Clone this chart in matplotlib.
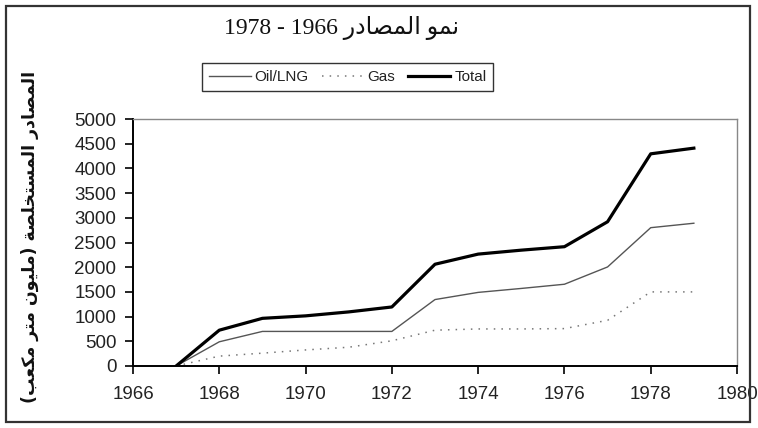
import matplotlib
matplotlib.use("Agg")
import matplotlib.pyplot as plt
from matplotlib.patches import Rectangle

years = [1967, 1968, 1969, 1970, 1971, 1972, 1973, 1974, 1975, 1976, 1977, 1978, 1979]
oil = [0, 490, 700, 700, 700, 700, 1345, 1490, 1570, 1655, 2005, 2800, 2890]
gas = [0, 200, 260, 325, 380, 510, 725, 750, 750, 757, 925, 1500, 1500]
total = [0, 725, 965, 1015, 1095, 1195, 2060, 2265, 2345, 2415, 2920, 4295, 4410]
series_names = ["Oil/LNG", "Gas", "Total"]
xticks = [1966, 1968, 1970, 1972, 1974, 1976, 1978, 1980]
yticks = list(range(0, 5001, 500))

title_ar = "نمو المصادر"
title_num = "1978 - 1966"
ylabel_ar = "المصادر المستخلصة (مليون متر مكعب)"

# --- minimal Arabic shaping (presentation forms) + visual reordering ---
FORMS = {
    'ا': (0xFE8D, 0xFE8E, None, None),
    'ب': (0xFE8F, 0xFE90, 0xFE91, 0xFE92),
    'ة': (0xFE93, 0xFE94, None, None),
    'ت': (0xFE95, 0xFE96, 0xFE97, 0xFE98),
    'خ': (0xFEA5, 0xFEA6, 0xFEA7, 0xFEA8),
    'د': (0xFEA9, 0xFEAA, None, None),
    'ر': (0xFEAD, 0xFEAE, None, None),
    'س': (0xFEB1, 0xFEB2, 0xFEB3, 0xFEB4),
    'ص': (0xFEB9, 0xFEBA, 0xFEBB, 0xFEBC),
    'ع': (0xFEC9, 0xFECA, 0xFECB, 0xFECC),
    'ك': (0xFED9, 0xFEDA, 0xFEDB, 0xFEDC),
    'ل': (0xFEDD, 0xFEDE, 0xFEDF, 0xFEE0),
    'م': (0xFEE1, 0xFEE2, 0xFEE3, 0xFEE4),
    'ن': (0xFEE5, 0xFEE6, 0xFEE7, 0xFEE8),
    'و': (0xFEED, 0xFEEE, None, None),
    'ي': (0xFEF1, 0xFEF2, 0xFEF3, 0xFEF4),
}


def dual(c):
    return c in FORMS and FORMS[c][2] is not None


def shape_word(w):
    out = []
    for i, c in enumerate(w):
        if c not in FORMS:
            out.append(c)
            continue
        p = i > 0 and dual(w[i - 1])
        n = dual(c) and i < len(w) - 1 and w[i + 1] in FORMS
        iso, fin, ini, med = FORMS[c]
        if p and n:
            cp = med
        elif p:
            cp = fin
        elif n:
            cp = ini
        else:
            cp = iso
        out.append(chr(cp))
    return ''.join(out)


def visual(text):
    mirror = {'(': ')', ')': '('}
    words = text.split(' ')
    vis_words = []
    for w in reversed(words):
        s = shape_word(w)
        s = ''.join(mirror.get(ch, ch) for ch in reversed(s))
        vis_words.append(s)
    return ' '.join(vis_words)


fig = plt.figure(figsize=(7.58, 4.28), dpi=100)
ax = fig.add_axes([133 / 758, 1 - 366 / 428, (737 - 133) / 758, (366 - 119) / 428])

l1, = ax.plot(years, oil, color="#555555", lw=1.0)
l2, = ax.plot(years, gas, color="#777777", lw=1.1, linestyle=(0, (1, 4)))
l3, = ax.plot(years, total, color="black", lw=2.3)

ax.set_xlim(1966, 1980)
ax.set_ylim(0, 5000)
ax.set_xticks(xticks)
ax.set_yticks(yticks)
ax.tick_params(axis="both", direction="out", length=5.5, width=1.2, color="black",
               labelsize=13.5)
ax.tick_params(axis="x", pad=9)
ax.tick_params(axis="y", pad=6.5)
for lab in ax.get_xticklabels() + ax.get_yticklabels():
    lab.set_family("Liberation Sans")
    lab.set_color("#222222")
ax.spines["left"].set_linewidth(1.4)
ax.spines["bottom"].set_linewidth(1.4)
ax.spines["left"].set_color("black")
ax.spines["bottom"].set_color("black")
ax.spines["top"].set_color("#888888")
ax.spines["right"].set_color("#888888")
ax.spines["top"].set_linewidth(1.0)
ax.spines["right"].set_linewidth(1.0)

# title
fig.text(342 / 758, 1 - 28 / 428, title_num + " " + visual(title_ar),
         ha="center", va="center", fontsize=17,
         family=["Liberation Serif", "DejaVu Sans"], color="#111111")

# y label
fig.text(30 / 758, 1 - 237 / 428, visual(ylabel_ar), rotation=90, ha="center", va="center",
         fontsize=12.5, fontweight="bold", family=["DejaVu Sans"], color="#111111")

leg = fig.legend([l1, l2, l3], series_names, loc="upper left",
                 bbox_to_anchor=(202 / 758, 1 - 63 / 428), ncol=3,
                 frameon=True, fancybox=False, edgecolor="black", handlelength=2.75,
                 handletextpad=0.25, columnspacing=0.85, borderpad=0.45, borderaxespad=0,
                 prop={"family": "Liberation Sans", "size": 11})
leg.get_frame().set_linewidth(1.0)
for t in leg.get_texts():
    t.set_color("#222222")

# figure border
fig.patches.append(Rectangle((6 / 758, 6 / 428), 744 / 758, 416 / 428, transform=fig.transFigure,
                             fill=False, edgecolor="#333333", lw=1.6))

fig.savefig("out.png", dpi=100)
